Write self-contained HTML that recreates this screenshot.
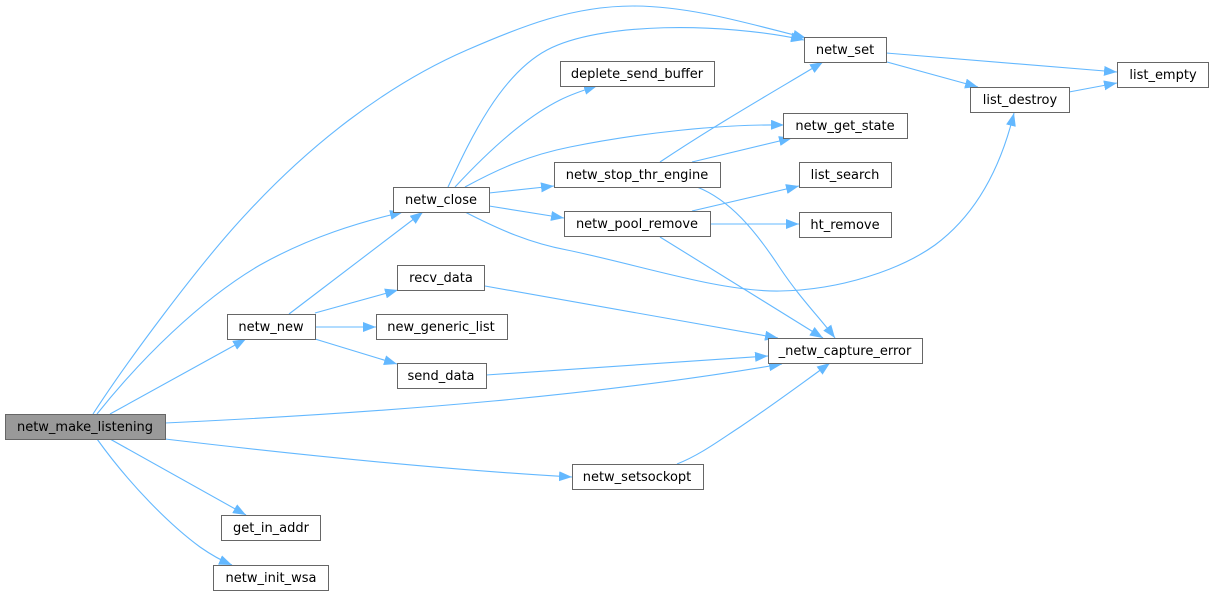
<!DOCTYPE html>
<html><head><meta charset="utf-8"><style>
html,body{margin:0;padding:0;background:#fff;}
svg{display:block;}
text{font-family:"DejaVu Sans","Liberation Sans",sans-serif;font-size:13px;fill:#000;text-anchor:middle;}
.n{fill:#fff;stroke:#666;stroke-width:1;}
.e{fill:none;stroke:#63b8ff;stroke-width:1.1;}
</style></head><body>
<svg width="1213" height="596" viewBox="0 0 1213 596" xmlns="http://www.w3.org/2000/svg">
<defs>
<marker id="a" markerUnits="userSpaceOnUse" markerWidth="13" markerHeight="10" viewBox="0 0 13 10" refX="13" refY="5" orient="auto">
<path d="M0,0 L13,5 L0,10 z" fill="#63b8ff"/>
</marker>
</defs>
<g>
<path class="e" marker-end="url(#a)" d="M93,414 C126,363 199,264 247,213 C308,147 384,86 467,50 C522,26 573,6 633,6 C691,6 750,24 806,38"/>
<path class="e" marker-end="url(#a)" d="M97,414 C140,360 200,300 260,265 C310,237 360,222 403,212"/>
<path class="e" marker-end="url(#a)" d="M110,414 L246,339"/>
<path class="e" marker-end="url(#a)" d="M165,423 C400,412 600,395 782,364"/>
<path class="e" marker-end="url(#a)" d="M165,439 C300,455 450,470 572,477"/>
<path class="e" marker-end="url(#a)" d="M110,439 L246,515"/>
<path class="e" marker-end="url(#a)" d="M97,439 C130,485 170,525 200,547 C210,554 220,560 232,565"/>
<path class="e" marker-end="url(#a)" d="M289,314 L423,212"/>
<path class="e" marker-end="url(#a)" d="M315,313 L398,290"/>
<path class="e" marker-end="url(#a)" d="M315,327 L376,327"/>
<path class="e" marker-end="url(#a)" d="M315,339 L397,364"/>
<path class="e" marker-end="url(#a)" d="M448,187 C470,140 500,75 547,50 C600,22 720,22 804,40"/>
<path class="e" marker-end="url(#a)" d="M455,187 C480,160 520,120 560,100 C572,94 584,90 597,86"/>
<path class="e" marker-end="url(#a)" d="M465,187 C500,168 530,155 570,147 C640,133 720,124 784,125"/>
<path class="e" marker-end="url(#a)" d="M489,193 L554,186"/>
<path class="e" marker-end="url(#a)" d="M489,206 L564,218"/>
<path class="e" marker-end="url(#a)" d="M465,212 C500,230 530,243 567,250 C640,265 720,292 780,291 C840,290 900,270 935,245 C985,208 1005,150 1014,113"/>
<path class="e" marker-end="url(#a)" d="M660,162 C720,122 780,88 823,62"/>
<path class="e" marker-end="url(#a)" d="M692,162 L792,138"/>
<path class="e" marker-end="url(#a)" d="M697,187 C730,200 755,230 780,268 C800,298 820,318 835,338"/>
<path class="e" marker-end="url(#a)" d="M692,211 L799,186"/>
<path class="e" marker-end="url(#a)" d="M711,224 L799,224"/>
<path class="e" marker-end="url(#a)" d="M660,237 L823,338"/>
<path class="e" marker-end="url(#a)" d="M485,286 L778,338"/>
<path class="e" marker-end="url(#a)" d="M486,375 L768,356"/>
<path class="e" marker-end="url(#a)" d="M677,464 C700,455 720,440 740,427 C770,407 800,385 830,363"/>
<path class="e" marker-end="url(#a)" d="M886,53 L1117,72"/>
<path class="e" marker-end="url(#a)" d="M887,62 L978,87"/>
<path class="e" marker-end="url(#a)" d="M1069,92 L1117,83"/>
</g>

<rect x="5.5" y="414.5" width="160" height="25" fill="#999" stroke="#666"/>
<text x="85" y="431">netw_make_listening</text>

<rect class="n" x="227.5" y="314.5" width="88" height="25"/>
<text x="271" y="331">netw_new</text>

<rect class="n" x="221.5" y="515.5" width="99" height="25"/>
<text x="271" y="532">get_in_addr</text>

<rect class="n" x="213.5" y="565.5" width="115" height="25"/>
<text x="271" y="582">netw_init_wsa</text>

<rect class="n" x="393.5" y="187.5" width="96" height="25"/>
<text x="441" y="204">netw_close</text>

<rect class="n" x="397.5" y="265.5" width="87" height="25"/>
<text x="441" y="282">recv_data</text>

<rect class="n" x="376.5" y="314.5" width="131" height="25"/>
<text x="441" y="331">new_generic_list</text>

<rect class="n" x="397.5" y="363.5" width="89" height="25"/>
<text x="441" y="380">send_data</text>

<rect class="n" x="560.5" y="61.5" width="154" height="25"/>
<text x="637" y="78">deplete_send_buffer</text>

<rect class="n" x="554.5" y="162.5" width="166" height="25"/>
<text x="637" y="179">netw_stop_thr_engine</text>

<rect class="n" x="564.5" y="211.5" width="146" height="25"/>
<text x="637" y="228">netw_pool_remove</text>

<rect class="n" x="572.5" y="464.5" width="131" height="25"/>
<text x="637" y="481">netw_setsockopt</text>

<rect class="n" x="804.5" y="37.5" width="82" height="25"/>
<text x="845" y="54">netw_set</text>

<rect class="n" x="783.5" y="113.5" width="124" height="25"/>
<text x="845" y="130">netw_get_state</text>

<rect class="n" x="799.5" y="162.5" width="92" height="25"/>
<text x="845" y="179">list_search</text>

<rect class="n" x="799.5" y="212.5" width="92" height="25"/>
<text x="845" y="229">ht_remove</text>

<rect class="n" x="768.5" y="338.5" width="154" height="25"/>
<text x="845" y="355">_netw_capture_error</text>

<rect class="n" x="970.5" y="87.5" width="99" height="25"/>
<text x="1020" y="104">list_destroy</text>

<rect class="n" x="1117.5" y="62.5" width="91" height="25"/>
<text x="1163" y="79">list_empty</text>
</svg>
</body></html>
